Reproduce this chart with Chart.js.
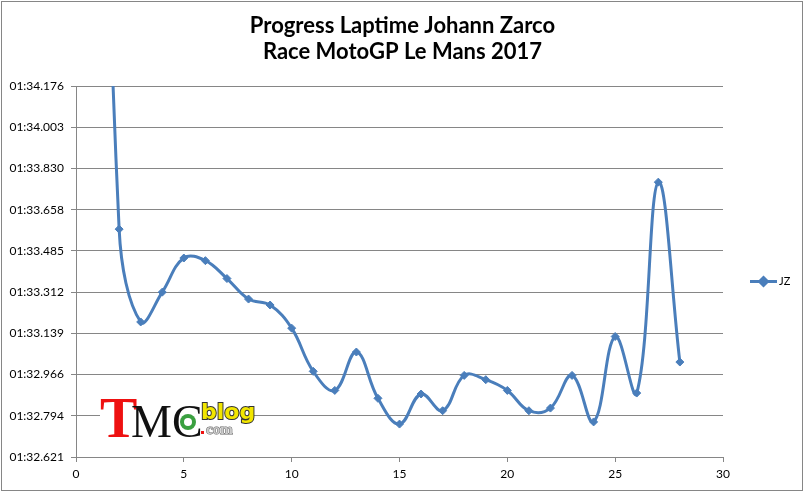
<!DOCTYPE html>
<html><head><meta charset="utf-8">
<script src="https://cdn.jsdelivr.net/npm/chart.js@4.4.1/dist/chart.umd.min.js"></script>
<style>html,body{margin:0;padding:0;background:#fff}#wrap{width:805px;height:493px;position:relative}</style>
</head><body><div id="wrap"><canvas id="c"></canvas></div>
<script>
const laps = [1,2,3,4,5,6,7,8,9,10,11,12,13,14,15,16,17,18,19,20,21,22,23,24,25,26,27,28];
const lapTimes = [97.0, 93.576, 93.187, 93.312, 93.455, 93.444, 93.369, 93.283, 93.258, 93.161, 92.980, 92.900, 93.061, 92.867, 92.759, 92.885, 92.815, 92.963, 92.945, 92.900, 92.815, 92.826, 92.963, 92.768, 93.126, 92.889, 93.773, 93.019];
const yTickValues = [92.621, 92.7938, 92.9666, 93.1393, 93.3121, 93.4849, 93.6577, 93.8304, 94.0032, 94.176];
const yTickLabels = ['01:32.621','01:32.794','01:32.966','01:33.139','01:33.312','01:33.485','01:33.658','01:33.830','01:34.003','01:34.176'];
const xTickStep = 5;
const xMin = 0, xMax = 30;
const seriesName = 'JZ';
const titleLines = ['Progress Laptime Johann Zarco', 'Race MotoGP Le Mans 2017'];

const lineColor = '#4A7EBB';
const gridColor = '#868686';

Chart.defaults.font.family = 'Lato';
Chart.defaults.font.size = 12;
Chart.defaults.color = '#000';

const frame = {
  id: 'frame',
  afterDraw(chart) {
    const ctx = chart.ctx;
    ctx.save();
    ctx.strokeStyle = gridColor;
    ctx.lineWidth = 1;
    ctx.strokeRect(1.5, 1.5, chart.width - 4, chart.height - 4);
    ctx.restore();
  }
};

const titlePlugin = {
  id: 'centerTitle',
  afterDraw(chart) {
    const ctx = chart.ctx;
    ctx.save();
    ctx.fillStyle = '#000';
    ctx.font = 'bold 22px Lato';
    ctx.textAlign = 'center';
    ctx.textBaseline = 'alphabetic';
    titleLines.forEach((t, i) => ctx.fillText(t, chart.width / 2, 33 + i * 25.5));
    ctx.restore();
  }
};

const legendPlugin = {
  id: 'sideLegend',
  afterDraw(chart) {
    const ctx = chart.ctx, a = chart.chartArea;
    const x0 = a.right + 27, y = (a.top + a.bottom) / 2 + 10;
    ctx.save();
    ctx.strokeStyle = lineColor; ctx.lineWidth = 3;
    ctx.beginPath(); ctx.moveTo(x0, y); ctx.lineTo(x0 + 27, y); ctx.stroke();
    ctx.fillStyle = lineColor;
    Chart.helpers.drawPoint(ctx, {pointStyle: 'rectRot', radius: 4, borderWidth: 1}, x0 + 13.5, y);
    ctx.fillStyle = '#000';
    ctx.font = '11px Lato';
    ctx.textBaseline = 'middle';
    ctx.fillText(chart.data.datasets[0].label, x0 + 29, y);
    ctx.restore();
  }
};

const logo = {
  id: 'logo',
  beforeDatasetsDraw(chart) {
    const ctx = chart.ctx, a = chart.chartArea;
    const bx = a.left + 24, by = a.bottom - 20;
    ctx.save();
    ctx.fillStyle = '#fff';
    ctx.fillRect(bx, by - 40, 154, 44);
    ctx.textBaseline = 'alphabetic';
    ctx.font = 'bold 56px "Liberation Serif"';
    ctx.fillStyle = '#ee1111';
    ctx.fillText('T', bx, by);
    ctx.font = '46px "Liberation Serif"';
    ctx.fillStyle = '#111';
    ctx.fillText('MC', bx + 31, by);
    ctx.fillStyle = '#3aa040';
    ctx.beginPath(); ctx.arc(bx + 88, by - 15, 8, 0, Math.PI * 2); ctx.fill();
    ctx.fillStyle = '#fff';
    ctx.beginPath(); ctx.arc(bx + 88, by - 15, 4, 0, Math.PI * 2); ctx.fill();
    ctx.font = 'bold 22px "DejaVu Sans"';
    ctx.lineWidth = 2; ctx.strokeStyle = '#333'; ctx.fillStyle = '#f2e600';
    ctx.strokeText('blog', bx + 101, by - 18);
    ctx.fillText('blog', bx + 101, by - 18);
    ctx.fillStyle = '#ee1111';
    ctx.fillRect(bx + 101, by - 6, 3, 3);
    ctx.font = 'bold 15px "Liberation Serif"';
    ctx.fillStyle = '#ccc'; ctx.strokeStyle = '#666'; ctx.lineWidth = 1;
    ctx.strokeText('com', bx + 106, by - 3);
    ctx.fillText('com', bx + 106, by - 3);
    ctx.restore();
  }
};

new Chart(document.getElementById('c'), {
  type: 'line',
  data: {
    datasets: [{
      label: seriesName,
      data: laps.map((l, i) => ({x: l, y: lapTimes[i]})),
      borderColor: lineColor,
      backgroundColor: lineColor,
      borderWidth: 3,
      pointStyle: 'rectRot',
      pointRadius: 4,
      pointBorderWidth: 1,
      pointBackgroundColor: lineColor,
      pointBorderColor: lineColor,
      tension: 0.4,
      clip: 0
    }]
  },
  options: {
    animation: false,
    responsive: true,
    maintainAspectRatio: false,
    devicePixelRatio: 1,
    layout: {padding: {left: 0, right: 82, top: 86, bottom: 0}},
    plugins: {
      legend: {display: false},
      tooltip: {enabled: false},
      title: {display: false}
    },
    scales: {
      x: {
        type: 'linear',
        min: xMin, max: xMax,
        ticks: {stepSize: xTickStep, padding: 5, font: {size: 12}},
        grid: {drawOnChartArea: false, drawTicks: true, tickLength: 5, color: gridColor},
        border: {display: true, color: gridColor},
        afterFit(s) { s.height = 36; }
      },
      y: {
        type: 'linear',
        min: yTickValues[0], max: yTickValues[yTickValues.length - 1],
        afterBuildTicks(s) { s.ticks = yTickValues.map(v => ({value: v})); },
        ticks: {callback: (v, i) => yTickLabels[i], padding: 7, font: {size: 12}},
        grid: {color: gridColor, drawTicks: true, tickLength: 5},
        border: {display: true, color: gridColor},
        afterFit(s) { s.width = 76; }
      }
    }
  },
  plugins: [frame, titlePlugin, legendPlugin, logo]
});
</script></body></html>
